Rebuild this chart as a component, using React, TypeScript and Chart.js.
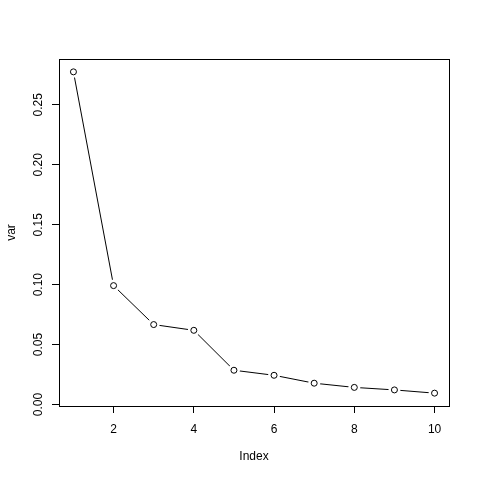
import React, { useEffect, useRef } from "react";
import { Chart, registerables } from "chart.js";

Chart.register(...registerables);

const indices = [1, 2, 3, 4, 5, 6, 7, 8, 9, 10];
const variances = [0.2775, 0.0992, 0.0667, 0.0619, 0.0286, 0.0244, 0.0178, 0.0143, 0.0122, 0.0095];
const xTicks = [2, 4, 6, 8, 10];
const yTicks = [0, 0.05, 0.1, 0.15, 0.2, 0.25];

function rangeExt(vals: number[]) {
  const lo = Math.min(...vals);
  const hi = Math.max(...vals);
  const d = (hi - lo) * 0.04;
  return [lo - d, hi + d];
}

const framePlugin = {
  id: "frame",
  afterDraw(chart: any) {
    const { ctx, chartArea } = chart;
    ctx.save();
    ctx.strokeStyle = "#000000";
    ctx.lineWidth = 1;
    ctx.strokeRect(
      Math.round(chartArea.left) + 0.5,
      Math.round(chartArea.top) + 0.5,
      Math.round(chartArea.right - chartArea.left),
      Math.round(chartArea.bottom - chartArea.top)
    );
    ctx.restore();
  },
};

export default function App() {
  const ref = useRef<HTMLCanvasElement>(null);
  useEffect(() => {
    if (!ref.current) return;
    Chart.defaults.font.family = "'Liberation Sans', Arial, Helvetica, sans-serif";
    Chart.defaults.font.size = 12;
    Chart.defaults.color = "#000000";
    const [xmin, xmax] = rangeExt(indices);
    const [ymin, ymax] = rangeExt(variances);
    const pts = indices.map((x, i) => ({ x, y: variances[i] }));
    const chart = new Chart(ref.current, {
      type: "line",
      data: {
        datasets: [
          {
            data: pts,
            order: 3,
            borderColor: "#000000",
            borderWidth: 1,
            pointRadius: 0,
            fill: false,
            tension: 0,
          },
          {
            data: pts,
            order: 2,
            showLine: false,
            pointStyle: "circle",
            pointRadius: 6,
            pointBorderWidth: 0,
            pointBackgroundColor: "#ffffff",
            pointBorderColor: "rgba(0,0,0,0)",
          },
          {
            data: pts,
            order: 1,
            showLine: false,
            pointStyle: "circle",
            pointRadius: 3,
            pointBorderWidth: 1,
            pointBackgroundColor: "rgba(0,0,0,0)",
            pointBorderColor: "#000000",
          },
        ],
      },
      options: {
        responsive: false,
        animation: false,
        events: [],
        layout: { padding: { top: 59, right: 31, left: 0, bottom: 0 } },
        plugins: { legend: { display: false }, tooltip: { enabled: false } },
        scales: {
          x: {
            type: "linear",
            min: xmin,
            max: xmax,
            afterBuildTicks: (s: any) => {
              s.ticks = xTicks.map((v) => ({ value: v }));
            },
            afterFit: (s: any) => {
              s.height = 74;
            },
            ticks: { padding: 9, maxRotation: 0, autoSkip: false, callback: (v: any) => String(v) },
            grid: { drawOnChartArea: false, drawTicks: true, tickLength: 7, color: "#000000", lineWidth: 1 },
            border: { display: false },
            title: { display: true, text: "Index", padding: { bottom: 16, top: 0 } },
          },
          y: {
            type: "linear",
            min: ymin,
            max: ymax,
            afterBuildTicks: (s: any) => {
              s.ticks = yTicks.map((v) => ({ value: v }));
            },
            afterFit: (s: any) => {
              s.width = 59;
            },
            ticks: {
              padding: 2,
              minRotation: 90,
              maxRotation: 90,
              crossAlign: "center",
              autoSkip: false,
              callback: (v: any) => Number(v).toFixed(2),
            },
            grid: { drawOnChartArea: false, drawTicks: true, tickLength: 7, color: "#000000", lineWidth: 1 },
            border: { display: false },
            title: { display: true, text: "var", padding: { top: 4, bottom: 0 } },
          },
        },
      },
      plugins: [framePlugin],
    });
    return () => chart.destroy();
  }, []);
  return (
    <canvas
      ref={ref}
      width={480}
      height={480}
      style={{ position: "absolute", left: 0, top: 0, width: 480, height: 480, background: "#fff" }}
    />
  );
}
